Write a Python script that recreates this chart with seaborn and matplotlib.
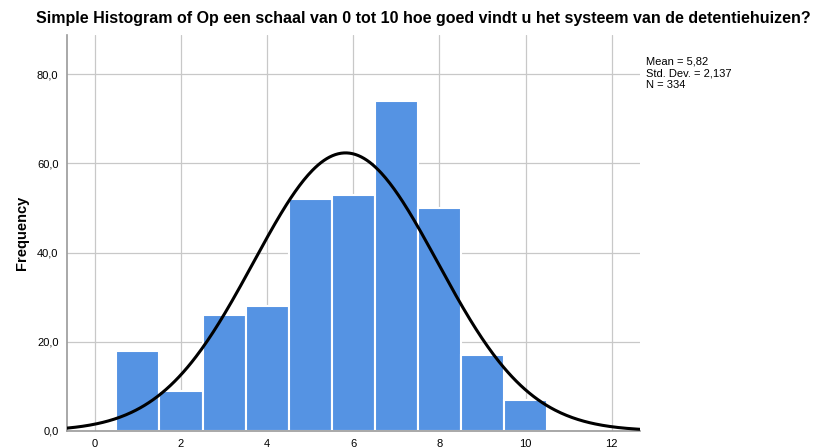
import numpy as np
import pandas as pd
import matplotlib
matplotlib.use("Agg")
import matplotlib.pyplot as plt
import seaborn as sns

# data
scores = [1, 2, 3, 4, 5, 6, 7, 8, 9, 10]
counts = [18, 9, 26, 28, 52, 53, 74, 50, 17, 7]
mean_val = 5.82
std_val = 2.137
n_val = 334
x_ticks = [0, 2, 4, 6, 8, 10, 12]
y_ticks = [0, 20, 40, 60, 80]

title = "Simple Histogram of Op een schaal van 0 tot 10 hoe goed vindt u het systeem van de detentiehuizen?"

sns.set_style("white")
plt.rcParams["font.family"] = ["Liberation Sans", "DejaVu Sans"]
plt.rcParams["text.color"] = "black"
plt.rcParams["axes.labelcolor"] = "black"
plt.rcParams["xtick.color"] = "black"
plt.rcParams["ytick.color"] = "black"

df = pd.DataFrame({"score": scores, "count": counts})

fig = plt.figure(figsize=(8.15, 4.48), dpi=100)
ax = fig.add_axes([0.082, 0.038, 0.703, 0.884])

sns.histplot(data=df, x="score", weights="count", binwidth=1, binrange=(0.5, 10.5),
             color="#5593e3", alpha=1, edgecolor="white", linewidth=1.5, ax=ax, zorder=2)

# normal curve from the reported statistics
xs = np.linspace(-0.65, 12.65, 400)
ys = n_val * np.exp(-0.5 * ((xs - mean_val) / std_val) ** 2) / (std_val * np.sqrt(2 * np.pi))
ax.plot(xs, ys, color="black", linewidth=2.2, zorder=3)

ax.set_xlim(-0.65, 12.65)
ax.set_ylim(0, 88.8)
ax.set_xticks(x_ticks)
ax.set_xticklabels([str(t) for t in x_ticks], fontsize=8)
ax.set_yticks(y_ticks)
ax.set_yticklabels([f"{t:.1f}".replace(".", ",") for t in y_ticks], fontsize=8)
ax.tick_params(length=0, pad=6)
ax.grid(True, color="#c8c8c8", linewidth=0.9, zorder=0)
ax.set_axisbelow(True)
for side in ["top", "right"]:
    ax.spines[side].set_visible(False)
for side in ["left", "bottom"]:
    ax.spines[side].set_color("#9a9a9a")
    ax.spines[side].set_linewidth(1.2)

ax.set_xlabel("")
ax.set_ylabel("Frequency", fontsize=10.5, fontweight="bold", labelpad=6)

# stats box text, decimal comma like SPSS (Dutch locale)
mean_txt = f"{mean_val:.2f}".replace(".", ",")
std_txt = f"{std_val:.3f}".replace(".", ",")
stats = f"Mean = {mean_txt}\nStd. Dev. = {std_txt}\nN = {n_val}"

fig.text(0.52, 0.958, title, ha="center", va="center", fontsize=11.5, fontweight="bold")
fig.text(0.793, 0.837, stats, ha="left", va="center", fontsize=8, linespacing=1.25)

fig.savefig("out.png", dpi=100)
